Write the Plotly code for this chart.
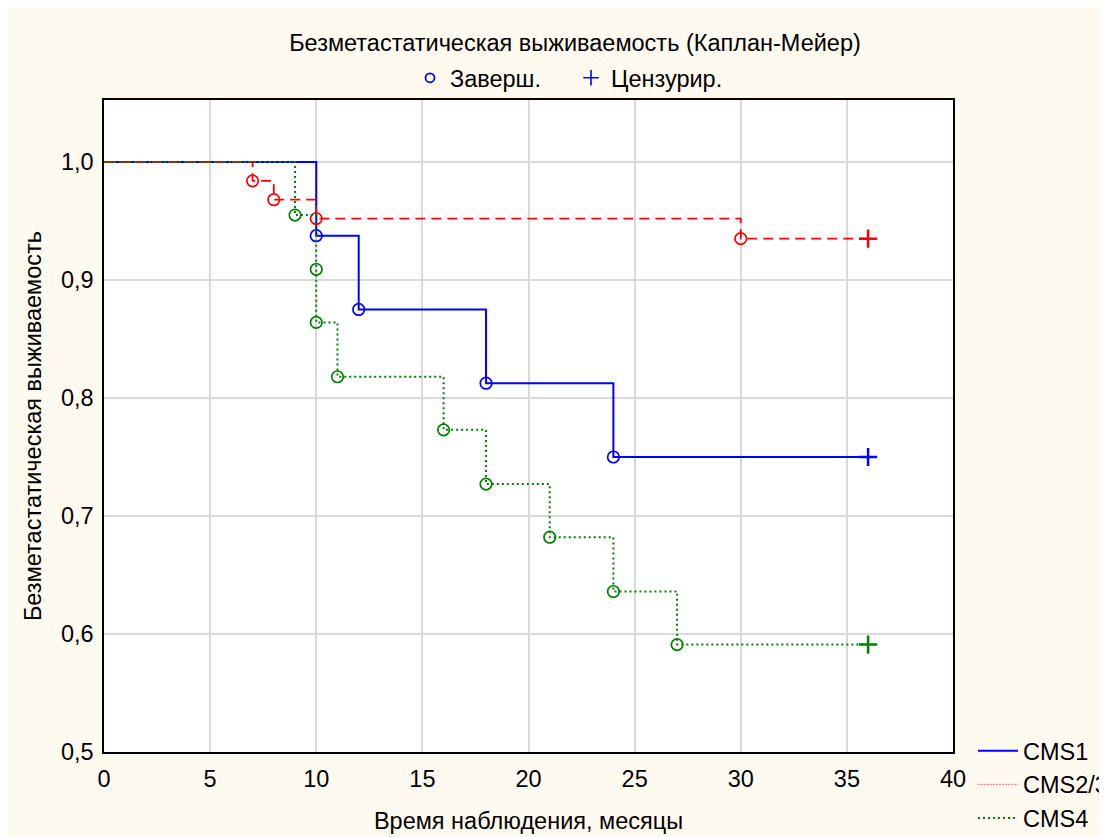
import plotly.graph_objects as go

# Data (Kaplan-Meier estimates)
cms1_t = [10, 12, 18, 24]
cms1_s = [0.9375, 0.875, 0.8125, 0.75]
cms23_t = [7, 8, 10, 30]
cms23_s = [0.984, 0.968, 0.952, 0.935]
cms4_t = [9, 10, 10, 11, 16, 18, 21, 24, 27]
cms4_s = [0.955, 0.909, 0.864, 0.818, 0.773, 0.727, 0.682, 0.636, 0.591]
censor_t = 36
x_ticks = [0, 5, 10, 15, 20, 25, 30, 35, 40]
y_ticks = [0.5, 0.6, 0.7, 0.8, 0.9, 1.0]

# name, times, survival, colour, dash, width, legend-sample style
groups = [
    ("CMS1", cms1_t, cms1_s, "#0000FF", "solid", 2, None),
    ("CMS2/3", cms23_t, cms23_s, "#FF0000", "10px,6px", 1.8, dict(color="#FF7070", width=1, dash="2px,1px")),
    ("CMS4", cms4_t, cms4_s, "#008000", "2px,3px", 2, None),
]

FONT = "Liberation Sans, Arial, sans-serif"
FS = 23.5
W, H = 1107, 837
L, R, T, B = 96, 162, 92, 93

fig = go.Figure()

for rank, (name, t, s, col, dash, w, leg_line) in enumerate(groups):
    xs = [0] + t + [censor_t]
    ys = [1.0] + s + [s[-1]]
    fig.add_trace(go.Scatter(x=xs, y=ys, mode="lines", line=dict(color=col, dash=dash, width=w, shape="hv"),
                             name=name, legend="legend", legendrank=rank + 1,
                             showlegend=leg_line is None))
    if leg_line is not None:
        fig.add_trace(go.Scatter(x=[None], y=[None], mode="lines", line=leg_line, name=name,
                                 legend="legend", legendrank=rank + 1))
    fig.add_trace(go.Scatter(x=t, y=s, mode="markers",
                             marker=dict(symbol="circle-open", size=11.5, color=col, line=dict(width=1.7, color=col)),
                             showlegend=False, hoverinfo="skip"))
    fig.add_trace(go.Scatter(x=[censor_t], y=[s[-1]], mode="markers",
                             marker=dict(symbol="cross-thin", size=13, color=col, line=dict(width=2.5, color=col)),
                             showlegend=False, hoverinfo="skip"))

# Marker legend at top
fig.add_trace(go.Scatter(x=[None], y=[None], mode="markers", name="Заверш.",
                         marker=dict(symbol="circle-open", size=9, color="#0000FF", line=dict(width=1.8, color="#0000FF")),
                         legend="legend2"))
fig.add_trace(go.Scatter(x=[None], y=[None], mode="markers", name="Цензурир.",
                         marker=dict(symbol="cross-thin", size=11, color="#0000FF", line=dict(width=1.6, color="#0000FF")),
                         legend="legend2"))

fig.update_layout(
    width=W, height=H,
    paper_bgcolor="#FFFAF0", plot_bgcolor="#FFFFFF",
    margin=dict(l=L, r=R, t=T, b=B, autoexpand=False),
    font=dict(family=FONT, size=FS, color="#000000"),
    separators=", ",
    title=dict(text="Безметастатическая выживаемость (Каплан-Мейер)", x=567 / W, xanchor="center",
               y=1 - 35 / H, yanchor="middle", font=dict(size=FS, family=FONT)),
    xaxis=dict(range=[0, 40], tickvals=x_ticks, showgrid=True, automargin=False,
               gridcolor="#D9D9D9", gridwidth=1.5, showline=True, linecolor="#000000", linewidth=1.5,
               mirror=True, ticks="", zeroline=False, ticklabelstandoff=5,
               title=dict(text="Время наблюдения, месяцы", standoff=22, font=dict(size=FS)),
               tickfont=dict(size=FS)),
    yaxis=dict(range=[0.5, 1.0525], tickvals=y_ticks, tickformat=".1f", automargin=False,
               showgrid=True, gridcolor="#D9D9D9", gridwidth=1.5, showline=True, linecolor="#000000",
               linewidth=1.5, mirror=True, ticks="", zeroline=False, ticklabelstandoff=4,
               title=dict(text="Безметастатическая выживаемость", standoff=13, font=dict(size=FS)),
               tickfont=dict(size=FS)),
    legend=dict(xref="container", yref="container", x=965 / W, xanchor="left", y=1 - 721 / H, yanchor="top",
                bgcolor="rgba(0,0,0,0)", font=dict(size=FS), tracegroupgap=0, itemwidth=40),
    legend2=dict(orientation="h", xref="container", yref="container", x=402 / W, xanchor="left",
                 y=1 - 70 / H, yanchor="middle", entrywidth=116, bgcolor="rgba(0,0,0,0)", font=dict(size=FS)),
)

fig.write_html("out.html")
